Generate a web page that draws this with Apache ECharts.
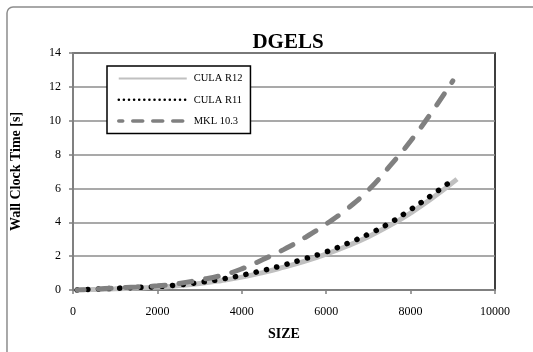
<!DOCTYPE html>
<html>
<head>
<meta charset="utf-8">
<script src="https://cdn.jsdelivr.net/npm/echarts@6/dist/echarts.min.js"></script>
<style>
  html, body { margin: 0; padding: 0; background: #fff; }
  #chart { width: 533px; height: 352px; }
</style>
</head>
<body>
<div id="chart"></div>
<script>
// 数据
const sizes = [100, 500, 1000, 1500, 2000, 2500, 3000, 3500, 4000, 4500, 5000, 5500, 6000, 6500, 7000, 7500, 8000, 8500, 9000];
const sizesR12 = [100, 500, 1000, 1500, 2000, 2500, 3000, 3500, 4000, 4500, 5000, 5500, 6000, 6500, 7000, 7500, 8000, 8500, 9100];
const culaR12 = [0.0, 0.03, 0.07, 0.12, 0.17, 0.26, 0.38, 0.55, 0.76, 1.03, 1.35, 1.7, 2.12, 2.6, 3.15, 3.8, 4.55, 5.4, 6.55];
const culaR11 = [0.0, 0.05, 0.1, 0.15, 0.2, 0.3, 0.45, 0.63, 0.87, 1.15, 1.48, 1.85, 2.25, 2.75, 3.3, 3.95, 4.75, 5.6, 6.5];
const mkl = [0.0, 0.05, 0.12, 0.18, 0.25, 0.38, 0.6, 0.85, 1.25, 1.8, 2.4, 3.1, 3.9, 4.8, 5.9, 7.3, 8.8, 10.5, 12.35];
const seriesNames = ['CULA R12', 'CULA R11', 'MKL 10.3'];

const font = 'Liberation Serif, DejaVu Serif, serif';
const chart = echarts.init(document.getElementById('chart'));

function pairs(xs, ys) {
    return xs.map((x, i) => [x, ys[i]]);
}

chart.setOption({
    animation: false,
    title: {
        text: 'DGELS',
        left: 283,
        textAlign: 'center',
        top: 27,
        textStyle: { fontFamily: font, fontSize: 21, fontWeight: 'bold', color: '#000' }
    },
    graphic: [{
        type: 'rect',
        shape: { x: 7, y: 7, width: 560, height: 380, r: 6 },
        style: { fill: 'none', stroke: '#8c8c8c', lineWidth: 1.5 },
        silent: true
    }],
    legend: {
        orient: 'vertical',
        left: 107,
        top: 66,
        padding: [7, 8, 7, 10],
        itemGap: 10,
        itemWidth: 68,
        itemHeight: 14,
        borderColor: '#000',
        borderWidth: 1.5,
        backgroundColor: '#fff',
        itemStyle: { opacity: 0, borderWidth: 0 },
        textStyle: { fontFamily: font, fontSize: 10.5, color: '#000', padding: [0, 0, 0, 2] },
        data: [
            { name: seriesNames[0] },
            { name: seriesNames[1], lineStyle: { width: 2.5, type: [0.1, 5] } },
            { name: seriesNames[2], lineStyle: { width: 3.5, type: [10, 10] } }
        ]
    },
    grid: {
        left: 73,
        right: 38,
        top: 53,
        bottom: 62,
        show: true,
        borderColor: '#000',
        borderWidth: 1.5
    },
    xAxis: {
        type: 'value',
        min: 0,
        max: 10000,
        interval: 2000,
        name: 'SIZE',
        nameLocation: 'middle',
        nameGap: 37,
        nameTextStyle: { fontFamily: font, fontSize: 14, fontWeight: 'bold', color: '#000' },
        axisLine: { show: true, lineStyle: { color: '#808080', width: 2 } },
        axisTick: { show: true, length: 4, lineStyle: { color: '#808080', width: 1.5 } },
        axisLabel: { fontFamily: font, fontSize: 12, color: '#000', margin: 16, formatter: v => String(v) },
        splitLine: { show: false }
    },
    yAxis: {
        type: 'value',
        min: 0,
        max: 14,
        interval: 2,
        name: 'Wall Clock Time [s]',
        nameLocation: 'middle',
        nameGap: 50,
        nameTextStyle: { fontFamily: font, fontSize: 14, fontWeight: 'bold', color: '#000' },
        axisLine: { show: true, lineStyle: { color: '#808080', width: 2 } },
        axisTick: { show: true, length: 4, lineStyle: { color: '#808080', width: 1.5 } },
        axisLabel: { fontFamily: font, fontSize: 12, color: '#000', margin: 12 },
        splitLine: { show: true, lineStyle: { color: '#8c8c8c', width: 1.5 } }
    },
    series: [
        {
            name: seriesNames[0],
            type: 'line',
            data: pairs(sizesR12, culaR12),
            smooth: true,
            symbol: 'none',
            color: '#c0c0c0',
            lineStyle: { color: '#c0c0c0', width: 5 }
        },
        {
            name: seriesNames[1],
            type: 'line',
            data: pairs(sizes, culaR11),
            smooth: true,
            symbol: 'none',
            color: '#000',
            lineStyle: { color: '#000', width: 5.5, type: [0.1, 10.5], cap: 'round' }
        },
        {
            name: seriesNames[2],
            type: 'line',
            data: pairs(sizes, mkl),
            smooth: true,
            symbol: 'none',
            color: '#808080',
            lineStyle: { color: '#808080', width: 5, type: [13, 14], dashOffset: 6, cap: 'round' }
        }
    ]
});
</script>
</body>
</html>
